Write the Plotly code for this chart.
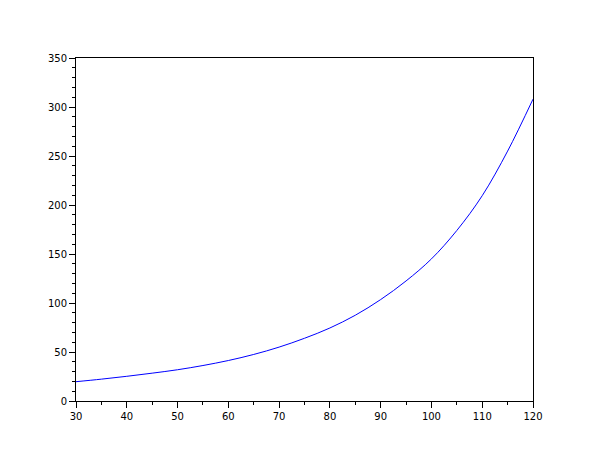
import plotly.graph_objects as go

x_vals = [30, 35, 40, 45, 50, 55, 60, 65, 70, 75, 80, 85, 90, 95, 100, 105, 110, 115, 120]
y_vals = [19.7, 22.3, 25.2, 28.4, 31.9, 36.2, 41.3, 47.5, 55.0, 64.0, 74.5, 87.5, 103.5, 122.5, 145.0, 174.0, 209.5, 255.0, 308.0]

x_ticks = [30, 40, 50, 60, 70, 80, 90, 100, 110, 120]
y_ticks = [0, 50, 100, 150, 200, 250, 300, 350]

fig = go.Figure()
fig.add_trace(go.Scatter(
    x=x_vals, y=y_vals, mode="lines",
    line=dict(color="#0000ff", width=1, shape="spline", smoothing=1.0),
    showlegend=False, hoverinfo="skip",
))

axis_common = dict(
    showgrid=False, zeroline=False, showline=True, linecolor="black", linewidth=1,
    mirror=True, ticks="outside", ticklen=6, tickwidth=1, tickcolor="black",
    tickfont=dict(family="DejaVu Sans", size=10, color="black"),
)

fig.update_layout(
    width=610, height=460,
    margin=dict(l=68, r=85, t=50, b=67),
    paper_bgcolor="white", plot_bgcolor="white",
    xaxis=dict(range=[30, 120], tickvals=x_ticks, ticktext=[str(v) for v in x_ticks],
               minor=dict(ticks="outside", ticklen=3, dtick=5, tick0=30, tickcolor="black", showgrid=False),
               **axis_common),
    yaxis=dict(range=[0, 350], tickvals=y_ticks, ticktext=[str(v) for v in y_ticks],
               minor=dict(ticks="outside", ticklen=3, dtick=10, tick0=0, tickcolor="black", showgrid=False),
               **axis_common),
)

fig.write_html("out.html")
